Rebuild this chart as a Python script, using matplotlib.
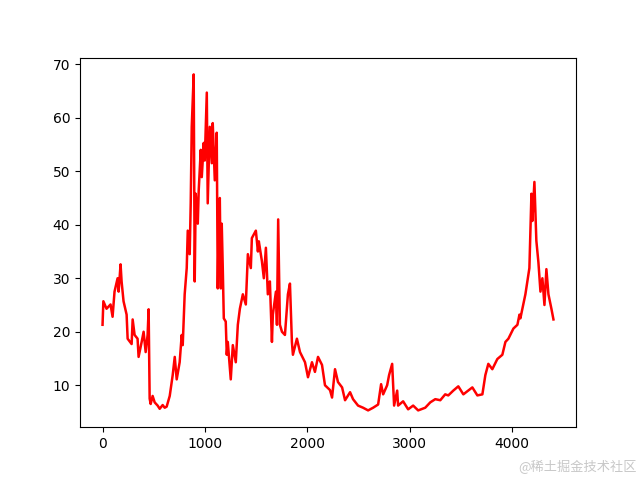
import matplotlib.pyplot as plt

# 값 (그림에서 읽은 대략적인 값)
idx = [0, 8, 39, 78, 98, 117, 147, 157, 176, 186, 205, 235, 245, 284, 294, 313,
       342, 352, 382, 401, 421, 440, 450, 460, 470, 489, 509, 538, 558, 587, 607,
       626, 656, 685, 705, 724, 753, 773, 783, 802, 822, 832, 851, 861, 871, 890,
       900, 910, 930, 939, 959, 969, 988, 998, 1018, 1027, 1047, 1067, 1076, 1096,
       1115, 1125, 1130, 1135, 1145, 1155, 1164, 1174, 1184, 1203, 1213, 1223,
       1252, 1272, 1301, 1321, 1341, 1370, 1399, 1419, 1448, 1458, 1497, 1517,
       1526, 1556, 1575, 1595, 1614, 1634, 1654, 1663, 1693, 1703, 1715, 1732,
       1752, 1781, 1810, 1830, 1849, 1859, 1898, 1928, 1977, 2006, 2045, 2074,
       2104, 2143, 2172, 2221, 2241, 2270, 2299, 2339, 2368, 2417, 2446, 2495,
       2544, 2593, 2642, 2691, 2720, 2740, 2779, 2798, 2828, 2847, 2877, 2886,
       2935, 2984, 3033, 3082, 3151, 3200, 3249, 3298, 3346, 3376, 3425, 3474,
       3523, 3611, 3660, 3709, 3738, 3767, 3806, 3855, 3904, 3934, 3963, 4012,
       4051, 4071, 4080, 4129, 4168, 4188, 4197, 4217, 4236, 4256, 4276, 4295,
       4315, 4334, 4354, 4383, 4403]
price = [21.3, 25.7, 24.3, 25.1, 22.8, 27.5, 30.0, 27.5, 32.6, 29.4, 25.7, 23.2,
         18.7, 17.7, 22.3, 19.4, 18.7, 15.3, 18.1, 20.0, 16.2, 19.4, 24.2, 7.5,
         6.5, 8.0, 6.8, 6.2, 5.6, 6.3, 5.8, 6.0, 8.0, 11.9, 15.3, 11.1, 14.3,
         19.4, 17.5, 27.0, 31.9, 38.9, 34.5, 44.0, 58.3, 68.1, 29.4, 45.8, 40.2,
         46.4, 54.0, 48.9, 55.3, 52.0, 64.7, 44.0, 58.3, 51.5, 59.0, 48.3, 57.2,
         28.1, 34.5, 39.4, 45.0, 28.1, 40.2, 31.9, 22.5, 21.9, 15.7, 18.1, 11.1,
         17.5, 14.3, 21.3, 24.3, 27.0, 25.1, 34.5, 31.9, 37.5, 38.9, 35.0, 36.9,
         33.2, 30.0, 35.7, 27.0, 29.4, 18.1, 23.2, 27.5, 21.3, 41.0, 21.3, 20.0,
         19.4, 27.0, 29.0, 18.1, 15.7, 18.7, 16.2, 14.3, 11.5, 14.3, 12.5, 15.3,
         13.8, 10.0, 9.1, 7.7, 13.0, 10.6, 9.6, 7.2, 8.7, 7.4, 6.2, 5.8, 5.3, 5.8,
         6.4, 10.2, 8.3, 10.0, 11.9, 14.0, 6.2, 9.0, 6.2, 7.0, 5.5, 6.2, 5.3, 5.8,
         6.8, 7.4, 7.2, 8.3, 8.1, 9.0, 9.8, 8.3, 9.6, 8.1, 8.3, 11.9, 14.0, 13.0,
         14.9, 15.7, 18.1, 18.7, 20.6, 21.3, 23.2, 22.5, 27.0, 31.9, 45.8, 40.7,
         48.0, 37.0, 33.0, 27.5, 30.0, 25.0, 31.7, 27.0, 24.3, 22.3]

fig = plt.figure(figsize=(6.4, 4.8), dpi=100)
plt.plot(idx, price, color='red', linewidth=1.8)

# 워터마크
fig.text(0.995, 0.027, '@稀土掘金技术社区', ha='right', va='center',
         fontsize=9.5, color='#c8c8c8',
         family=['Noto Sans CJK SC', 'DejaVu Sans'])

plt.savefig('out.png', dpi=100)
